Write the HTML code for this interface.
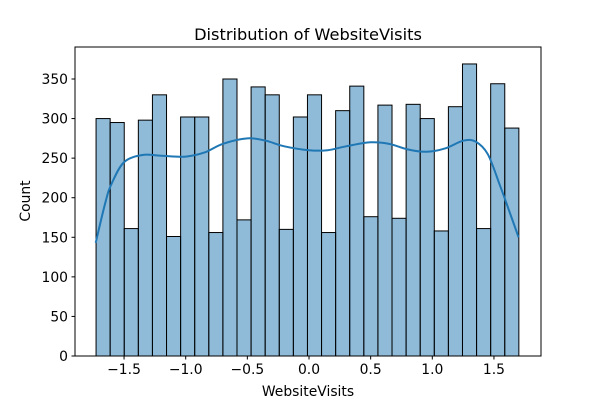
<!DOCTYPE html>
<html><head><meta charset="utf-8"><style>
body{margin:0;background:#fff;}
svg{display:block;font-family:"DejaVu Sans","Liberation Sans",sans-serif;}
</style></head><body>
<svg id="chart" width="600" height="400">
<text x="308" y="40" text-anchor="middle" font-size="16.2">Distribution of WebsiteVisits</text>
<g id="bars"></g>
<path id="kde" fill="none" stroke="#1f77b4" stroke-width="2"/>
<rect x="75" y="47" width="466" height="309" fill="none" stroke="#000" stroke-width="1"/>
<g id="xticks"></g>
<g id="yticks"></g>
<text x="308" y="396" text-anchor="middle" font-size="13.9">WebsiteVisits</text>
<text transform="translate(30,201) rotate(-90)" text-anchor="middle" font-size="13.9">Count</text>
</svg>
<script>
const binStart = -1.727;
const binWidth = 0.1143;
const counts = [300,295,161,298,330,151,302,302,156,350,172,340,330,160,302,330,156,310,341,176,317,174,318,300,158,315,369,161,344,288];
const kdeX = [-1.73,-1.65,-1.6,-1.5,-1.35,-1.2,-1.0,-0.85,-0.7,-0.5,-0.35,-0.2,0,0.15,0.3,0.5,0.65,0.8,0.95,1.1,1.25,1.35,1.45,1.55,1.62,1.7];
const kdeY = [143,195,218,245,254,253,252,257,268,275,272,265,260,260,265,270,268,261,258,262,272,271,255,215,185,150];
const xTicks = [-1.5,-1.0,-0.5,0.0,0.5,1.0,1.5];
const xTickLabels = ["\u22121.5","\u22121.0","\u22120.5","0.0","0.5","1.0","1.5"];
const yTicks = [0,50,100,150,200,250,300,350];
const NS="http://www.w3.org/2000/svg";
function sx(v){return 309+v*123.3;}
function sy(v){return 356-v*(277/350);}
const bars=document.getElementById('bars');
counts.forEach((c,i)=>{
 const r=document.createElementNS(NS,'rect');
 const x0=sx(binStart+i*binWidth), x1=sx(binStart+(i+1)*binWidth);
 r.setAttribute('x',x0);r.setAttribute('width',x1-x0);
 r.setAttribute('y',sy(c));r.setAttribute('height',sy(0)-sy(c));
 r.setAttribute('fill','rgba(31,119,180,0.5)');r.setAttribute('stroke','#000');r.setAttribute('stroke-width','1');
 
 
 bars.appendChild(r);
});
const pts=kdeX.map((x,i)=>[sx(x),sy(kdeY[i])]);
let d='M'+pts[0][0].toFixed(1)+','+pts[0][1].toFixed(1);
for(let i=0;i<pts.length-1;i++){
 const p0=pts[Math.max(i-1,0)],p1=pts[i],p2=pts[i+1],p3=pts[Math.min(i+2,pts.length-1)];
 const c1=[p1[0]+(p2[0]-p0[0])/6,p1[1]+(p2[1]-p0[1])/6];
 const c2=[p2[0]-(p3[0]-p1[0])/6,p2[1]-(p3[1]-p1[1])/6];
 d+='C'+c1[0].toFixed(1)+','+c1[1].toFixed(1)+' '+c2[0].toFixed(1)+','+c2[1].toFixed(1)+' '+p2[0].toFixed(1)+','+p2[1].toFixed(1);
}
document.getElementById('kde').setAttribute('d',d);
const xg=document.getElementById('xticks');
xTicks.forEach((t,i)=>{
 const l=document.createElementNS(NS,'line');
 l.setAttribute('x1',sx(t));l.setAttribute('x2',sx(t));l.setAttribute('y1',356);l.setAttribute('y2',359.5);l.setAttribute('stroke','#000');
 
 
 xg.appendChild(l);
 const tx=document.createElementNS(NS,'text');
 tx.setAttribute('x',sx(t));tx.setAttribute('y',374);tx.setAttribute('text-anchor','middle');tx.setAttribute('font-size','13.9');
 tx.textContent=xTickLabels[i];
 
 
 xg.appendChild(tx);
});
const yg=document.getElementById('yticks');
yTicks.forEach(t=>{
 const l=document.createElementNS(NS,'line');
 l.setAttribute('x1',71.5);l.setAttribute('x2',75);l.setAttribute('y1',sy(t));l.setAttribute('y2',sy(t));l.setAttribute('stroke','#000');
 
 
 yg.appendChild(l);
 const tx=document.createElementNS(NS,'text');
 tx.setAttribute('x',68);tx.setAttribute('y',sy(t)+5);tx.setAttribute('text-anchor','end');tx.setAttribute('font-size','13.9');
 tx.textContent=t;
 
 
 yg.appendChild(tx);
});
</script>
</body></html>
